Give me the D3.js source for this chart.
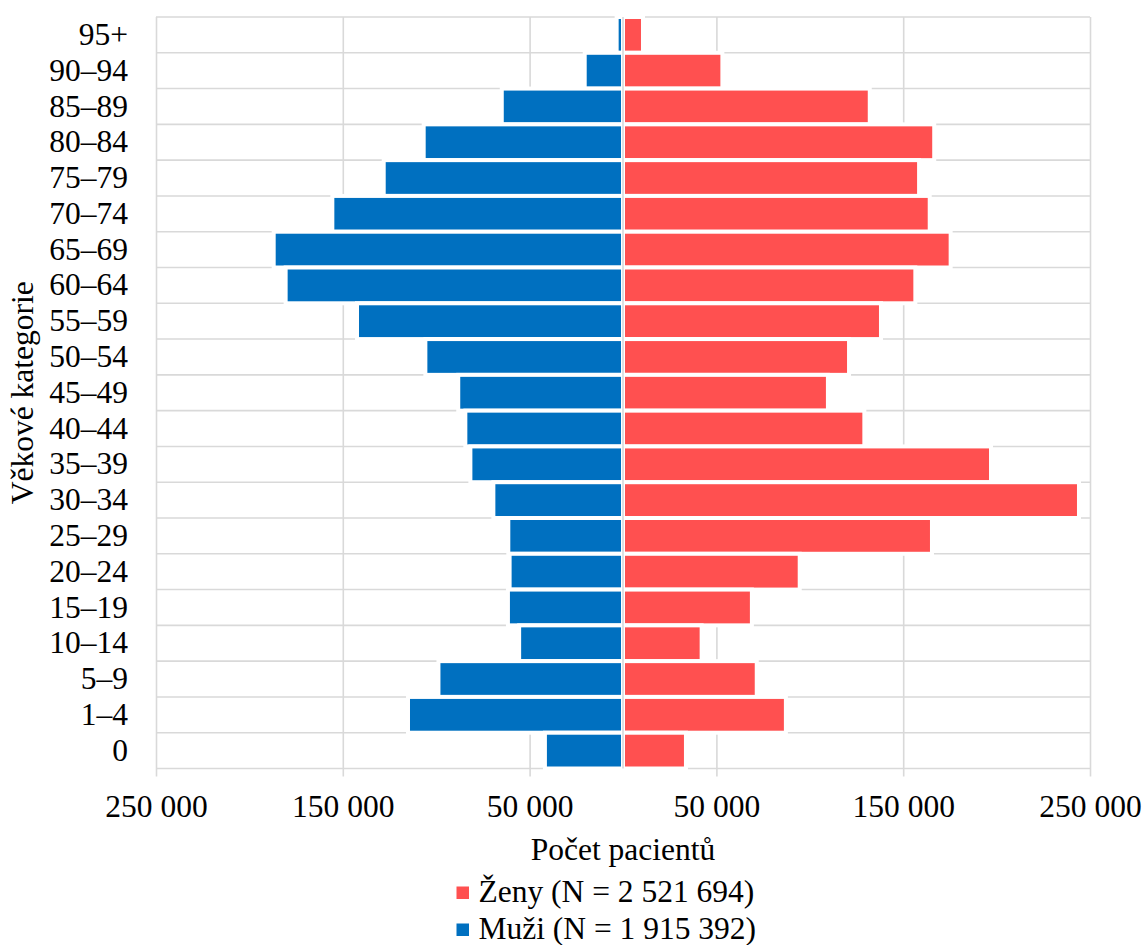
<!DOCTYPE html>
<html>
<head>
<meta charset="utf-8">
<script src="https://cdn.jsdelivr.net/npm/d3@7"></script>
<style>
  html, body { margin: 0; padding: 0; background: #ffffff; }
  svg { display: block; }
  text { font-family: "Liberation Serif", "Times New Roman", serif; fill: #000; }
</style>
</head>
<body>
<svg id="chart" width="1145" height="945"></svg>
<script>
// Age categories, top to bottom
const categories = ["95+", "90–94", "85–89", "80–84", "75–79", "70–74", "65–69", "60–64",
  "55–59", "50–54", "45–49", "40–44", "35–39", "30–34", "25–29", "20–24",
  "15–19", "10–14", "5–9", "1–4", "0"];

// Men (Muži) – patient counts
const men = [3400, 20500, 64900, 106700, 128100, 155600, 187000, 180600,
  142400, 105800, 88200, 84400, 81700, 69400, 61400, 60700,
  61600, 55600, 98800, 115100, 41800];

// Women (Ženy) – patient counts
const women = [10700, 53200, 132100, 166600, 158500, 164200, 175400, 156500,
  138100, 121000, 109700, 129200, 197000, 244100, 165400, 94600,
  69000, 42100, 71600, 87200, 33700];

const xTicks = [-250000, -150000, -50000, 50000, 150000, 250000];
const seriesNames = ["Ženy (N = 2 521 694)", "Muži (N = 1 915 392)"];
const seriesColors = ["#FF5050", "#0070C0"];
const xTitle = "Počet pacientů";
const yTitle = "Věkové kategorie";

(function () {
  const FS = 31.5;
  const FF = "'Liberation Serif', 'Times New Roman', serif";
  const pL = 156, pR = 1090, pT = 17, pB = 768.5;
  const svg = d3.select("#chart");

  const x = d3.scaleLinear().domain([-250000, 250000]).range([pL, pR]);
  const y = d3.scaleBand().domain(categories).range([pT, pB]).padding(0);

  const grid = "#d9d9d9";

  const bounds = categories.map(c => y(c)).concat([pB]);
  svg.append("g").selectAll("line").data(bounds).join("line")
    .attr("x1", pL).attr("x2", pR)
    .attr("y1", d => d).attr("y2", d => d)
    .attr("stroke", grid).attr("stroke-width", 1.6);

  const fmt = d => d3.format(",")(Math.abs(d)).replace(/,/g, " ");
  const xAxis = svg.append("g")
    .attr("transform", `translate(0,${pB + 8})`)
    .call(d3.axisBottom(x).tickValues(xTicks).tickFormat(fmt)
      .tickSizeInner(-(pB + 8 - pT)).tickSizeOuter(0).tickPadding(18));
  xAxis.attr("font-family", FF).attr("font-size", FS);
  xAxis.select(".domain").remove();
  xAxis.selectAll(".tick line").attr("stroke", grid).attr("stroke-width", 1.6);
  xAxis.selectAll(".tick text").attr("fill", "#000");

  const bars = svg.append("g");
  bars.selectAll("rect.m").data(categories).join("rect").attr("class", "m")
    .attr("x", (c, i) => x(-men[i]))
    .attr("width", (c, i) => x(0) - x(-men[i]))
    .attr("y", c => y(c)).attr("height", y.bandwidth())
    .attr("fill", seriesColors[1]).attr("stroke", "#fff").attr("stroke-width", 4);
  bars.selectAll("rect.w").data(categories).join("rect").attr("class", "w")
    .attr("x", x(0))
    .attr("width", (c, i) => x(women[i]) - x(0))
    .attr("y", c => y(c)).attr("height", y.bandwidth())
    .attr("fill", seriesColors[0]).attr("stroke", "#fff").attr("stroke-width", 4);

  svg.append("line")
    .attr("x1", x(0)).attr("x2", x(0)).attr("y1", pT).attr("y2", pB)
    .attr("stroke", "#d6d9dc").attr("stroke-width", 1.6);

  const yAxis = svg.append("g")
    .attr("transform", `translate(${pL},0)`)
    .call(d3.axisLeft(y).tickSize(0).tickPadding(28));
  yAxis.attr("font-family", FF).attr("font-size", FS);
  yAxis.select(".domain").remove();
  yAxis.selectAll(".tick text").attr("fill", "#000");

  svg.append("text")
    .attr("x", x(0)).attr("y", 860)
    .attr("text-anchor", "middle").attr("font-family", FF).attr("font-size", FS)
    .text(xTitle);
  svg.append("text")
    .attr("transform", `translate(33,${(pT + pB) / 2}) rotate(-90)`)
    .attr("text-anchor", "middle").attr("font-family", FF).attr("font-size", FS)
    .text(yTitle);

  const lg = svg.append("g").attr("transform", "translate(456.5,0)");
  const rows = lg.selectAll("g").data(seriesNames).join("g")
    .attr("transform", (d, i) => `translate(0,${902 + i * 37})`);
  rows.append("rect").attr("x", 0).attr("y", -15.5).attr("width", 12.5).attr("height", 12.5)
    .attr("fill", (d, i) => seriesColors[i]);
  rows.append("text").attr("x", 22).attr("y", 0)
    .attr("font-family", FF).attr("font-size", FS).text(d => d);
})();
</script>
</body>
</html>
